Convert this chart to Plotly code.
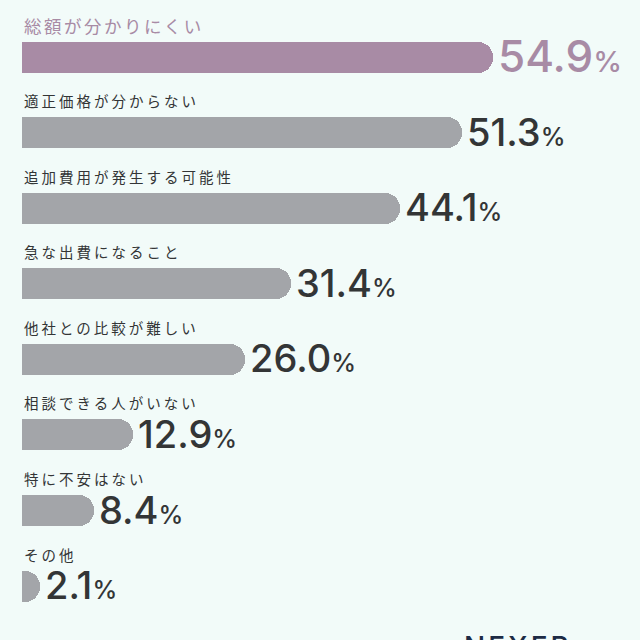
import plotly.graph_objects as go

categories = ["総額が分かりにくい", "適正価格が分からない", "追加費用が発生する可能性", "急な出費になること",
              "他社との比較が難しい", "相談できる人がいない", "特に不安はない", "その他"]
values = [54.9, 51.3, 44.1, 31.4, 26.0, 12.9, 8.4, 2.1]
highlight = [True, False, False, False, False, False, False, False]

BG = "#f2fbf9"
MAUVE = "#a88ba5"
GRAY = "#a3a5a9"
DARK = "#333536"
PAD = 4.0  # hidden left part of bar (clipped) so only right end is rounded

ypos = list(range(len(values)))
colors = [MAUVE if h else GRAY for h in highlight]

fig = go.Figure()
fig.add_trace(go.Bar(
    y=ypos, x=[v + PAD for v in values], base=[-PAD] * len(values),
    orientation="h", marker=dict(color=colors, cornerradius=15, line=dict(width=0)),
    width=0.41, hoverinfo="skip", showlegend=False,
))

ann = []
for i, (c, v, h) in enumerate(zip(categories, values, highlight)):
    ls = "3px" if not h else "2.5px"
    ann.append(dict(x=0, y=i, xref="x", yref="y",
                    text=f"<span style='letter-spacing:{ls}'>{c}</span>", showarrow=False,
                    xanchor="left", yanchor="middle", yshift=32,
                    font=dict(family="Noto Sans CJK JP", size=17.5 if h else 14.5,
                              color=MAUVE if h else DARK)))
    nsz, psz = (44, 29) if h else (38, 25)
    ann.append(dict(x=v, y=i, xref="x", yref="y",
                    text=f"<span style='font-size:{nsz}px'>{v:.1f}</span><span style='font-size:{psz}px'>%</span>",
                    showarrow=False, xanchor="left", yanchor="middle", xshift=3, yshift=1,
                    font=dict(family="Inter", weight=500, color=MAUVE if h else DARK)))

ann.append(dict(x=0.712, y=0, xref="paper", yref="paper",
                text="<span style='letter-spacing:3px'>NEXER</span>", showarrow=False,
                xanchor="left", yanchor="top", yshift=12,
                font=dict(family="Inter", size=28, weight=500, color="#1d2b45")))

fig.update_layout(
    width=640, height=640, margin=dict(l=22, r=0, t=0, b=0),
    paper_bgcolor=BG, plot_bgcolor=BG,
    xaxis=dict(range=[0, 618 / 8.58], visible=False, fixedrange=True),
    yaxis=dict(range=[7.712, -0.754], visible=False, fixedrange=True),
    annotations=ann, bargap=0,
)
fig.write_html("out.html")
